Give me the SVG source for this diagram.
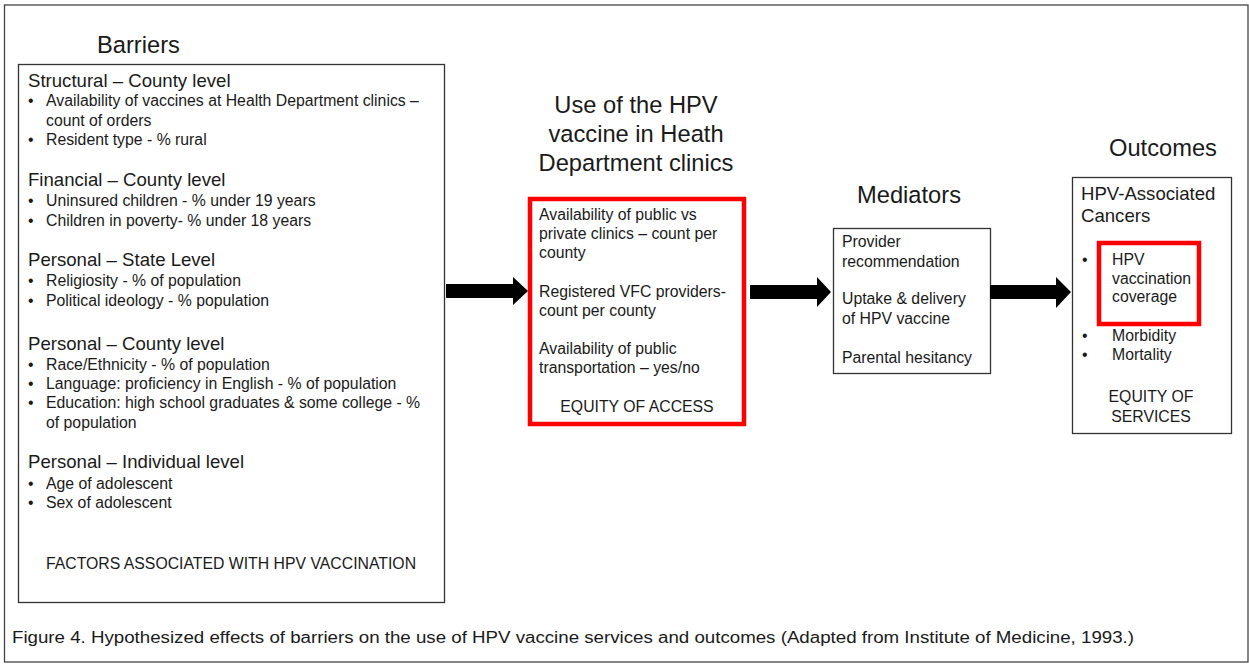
<svg xmlns="http://www.w3.org/2000/svg" width="1249" height="664" viewBox="0 0 1249 664">
<style>
text{font-family:"Liberation Sans",Arial,sans-serif;fill:#1a1a1a}
.t{font-size:23.7px}
.h{font-size:18.6px}
.b{font-size:15.8px}
.c{text-anchor:middle}
.box{fill:#fff;stroke:#333;stroke-width:1.3}
.red{fill:#fff;stroke:#f00;stroke-width:4.5}
.arr{fill:#000}
</style>
<rect x="0" y="0" width="1249" height="664" fill="#fff"/>
<rect x="4.5" y="5" width="1243.5" height="657" fill="none" stroke="#444" stroke-width="1.3"/>

<g id="barriers">
<text class="t" x="97" y="53">Barriers</text>
<rect class="box" x="18.5" y="64.5" width="426" height="538"/>
<text class="h" x="28" y="87">Structural – County level</text>
<text class="b" x="28" y="106">•</text><text class="b" x="46" y="106">Availability of vaccines at Health Department clinics –</text>
<text class="b" x="46" y="126">count of orders</text>
<text class="b" x="28" y="145">•</text><text class="b" x="46" y="145">Resident type - % rural</text>
<text class="h" x="28" y="186">Financial – County level</text>
<text class="b" x="28" y="206">•</text><text class="b" x="46" y="206">Uninsured children - % under 19 years</text>
<text class="b" x="28" y="226">•</text><text class="b" x="46" y="226">Children in poverty- % under 18 years</text>
<text class="h" x="28" y="266">Personal – State Level</text>
<text class="b" x="28" y="286">•</text><text class="b" x="46" y="286">Religiosity - % of population</text>
<text class="b" x="28" y="306">•</text><text class="b" x="46" y="306">Political ideology - % population</text>
<text class="h" x="28" y="350">Personal – County level</text>
<text class="b" x="28" y="370">•</text><text class="b" x="46" y="370">Race/Ethnicity - % of population</text>
<text class="b" x="28" y="389">•</text><text class="b" x="46" y="389">Language: proficiency in English - % of population</text>
<text class="b" x="28" y="408">•</text><text class="b" x="46" y="408">Education: high school graduates &amp; some college - %</text>
<text class="b" x="46" y="428">of population</text>
<text class="h" x="28" y="468">Personal – Individual level</text>
<text class="b" x="28" y="489">•</text><text class="b" x="46" y="489">Age of adolescent</text>
<text class="b" x="28" y="508">•</text><text class="b" x="46" y="508">Sex of adolescent</text>
<text class="b c" x="231" y="569">FACTORS ASSOCIATED WITH HPV VACCINATION</text>
</g>

<g id="use">
<text class="t c" x="636" y="113">Use of the HPV</text>
<text class="t c" x="636" y="142">vaccine in Heath</text>
<text class="t c" x="636" y="171">Department clinics</text>
<rect class="red" x="530" y="199" width="214" height="225"/>
<text class="b" x="539" y="220">Availability of public vs</text>
<text class="b" x="539" y="239">private clinics – count per</text>
<text class="b" x="539" y="258">county</text>
<text class="b" x="539" y="297">Registered VFC providers-</text>
<text class="b" x="539" y="316">count per county</text>
<text class="b" x="539" y="354">Availability of public</text>
<text class="b" x="539" y="373">transportation – yes/no</text>
<text class="b c" x="637" y="412">EQUITY OF ACCESS</text>
</g>

<g id="mediators">
<text class="t c" x="909" y="203">Mediators</text>
<rect class="box" x="833.5" y="228.5" width="157" height="145"/>
<text class="b" x="842" y="247">Provider</text>
<text class="b" x="842" y="267">recommendation</text>
<text class="b" x="842" y="304">Uptake &amp; delivery</text>
<text class="b" x="842" y="324">of HPV vaccine</text>
<text class="b" x="842" y="363">Parental hesitancy</text>
</g>

<g id="outcomes">
<text class="t c" x="1163" y="156">Outcomes</text>
<rect class="box" x="1072.5" y="177.5" width="159" height="256"/>
<text class="h" x="1081" y="200">HPV-Associated</text>
<text class="h" x="1081" y="222">Cancers</text>
<rect class="red" x="1099" y="243" width="100" height="81"/>
<text class="b" x="1082" y="265">•</text>
<text class="b" x="1112" y="265">HPV</text>
<text class="b" x="1112" y="284">vaccination</text>
<text class="b" x="1112" y="302">coverage</text>
<text class="b" x="1082" y="341">•</text><text class="b" x="1112" y="341">Morbidity</text>
<text class="b" x="1082" y="360">•</text><text class="b" x="1112" y="360">Mortality</text>
<text class="b c" x="1151" y="402">EQUITY OF</text>
<text class="b c" x="1151" y="422">SERVICES</text>
</g>

<g id="connectors">
<path class="arr" d="M446 284 H513 V277 L528 291 L513 305 V298 H446 Z"/>
<path class="arr" d="M750 285 H817 V277 L831 292 L817 307 V299 H750 Z"/>
<path class="arr" d="M990 285 H1056 V277 L1071 292 L1056 308 V299 H990 Z"/>
</g>

<text x="12" y="643" font-size="16" textLength="1122" lengthAdjust="spacingAndGlyphs">Figure 4. Hypothesized effects of barriers on the use of HPV vaccine services and outcomes (Adapted from Institute of Medicine, 1993.)</text>
</svg>
